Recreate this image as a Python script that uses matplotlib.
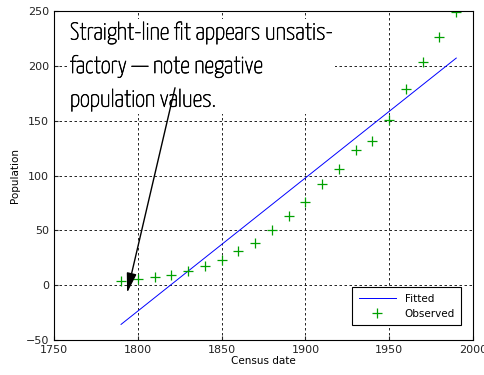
import matplotlib
matplotlib.use("Agg")
import matplotlib.pyplot as plt
import matplotlib.patheffects as pe
import numpy as np
from matplotlib import font_manager

years = [1790, 1800, 1810, 1820, 1830, 1840, 1850, 1860, 1870, 1880, 1890,
         1900, 1910, 1920, 1930, 1940, 1950, 1960, 1970, 1980, 1990]
population = [3.9, 5.3, 7.2, 9.6, 12.9, 17.1, 23.1, 31.4, 38.6, 50.2, 62.9,
              76.0, 92.0, 105.7, 122.8, 131.7, 150.7, 179.3, 203.2, 226.5, 248.7]
xticks = [1750, 1800, 1850, 1900, 1950, 2000]
yticks = [-50, 0, 50, 100, 150, 200, 250]
note = "Straight-line fit appears unsatis-\nfactory \u2014 note negative\npopulation values."

names = {f.name for f in font_manager.fontManager.ttflist}
cands = ['Yanone Kaffeesatz', 'Pathway Gothic One', 'Archivo Narrow', 'Asap Condensed']
note_font = next((c for c in cands if c in names), 'DejaVu Sans')

x = np.array(years, dtype=float)
y = np.array(population)
coef = np.polyfit(x, y, 1)
fit = np.polyval(coef, x)

fig = plt.figure(figsize=(4.84, 3.75), dpi=100)
ax = fig.add_axes([0.1116, 0.0933, 0.8657, 0.8774])
ax.plot(x, fit, color='#0000ff', lw=0.7, label='Fitted')
ax.plot(x, y, linestyle='none', marker='+', color='#00a000', ms=7, mew=0.9, label='Observed')
ax.set_xlim(1750, 2000)
ax.set_ylim(-50, 250)
ax.set_xticks(xticks)
ax.set_yticks(yticks)
ax.grid(True, color='black', linestyle=(0, (3, 3)), lw=0.6)
ax.tick_params(labelsize=8, direction='in', length=3, colors='#222222')
for s in ax.spines.values():
    s.set_linewidth(0.8)
ax.set_xlabel('Census date', fontsize=7.5, labelpad=1)
ax.set_ylabel('Population', fontsize=7.5, labelpad=4)

t = ax.text(1759.5, 239.5, note, fontsize=17.4, family=note_font, fontweight='normal', color='black',
            va='top', ha='left', linespacing=1.68,
            bbox=dict(facecolor='white', edgecolor='none', pad=2), zorder=4)
if note_font == 'Yanone Kaffeesatz':
    t.set_path_effects([pe.withStroke(linewidth=0.45, foreground='black')])
ax.annotate('', xy=(1793.6, -7), xytext=(1822.2, 180),
            arrowprops=dict(arrowstyle='-|>,head_length=1.2,head_width=0.3', color='black', lw=1,
                            mutation_scale=10, shrinkA=0, shrinkB=0), zorder=5)

leg = ax.legend(loc='lower right', bbox_to_anchor=(0.9714, 0.0456), borderaxespad=0,
                fontsize=7.5, fancybox=False, edgecolor='black', framealpha=1,
                handlelength=3.6, borderpad=0.6)
leg.get_frame().set_linewidth(0.8)

fig.savefig('out.png', dpi=100)
